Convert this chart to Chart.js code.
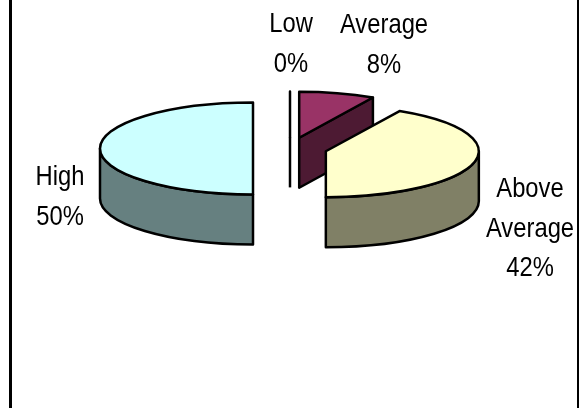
<!DOCTYPE html>
<html>
<head>
<meta charset="utf-8">
<title>Rating breakdown</title>
<script src="https://cdn.jsdelivr.net/npm/chart.js@4"></script>
<style>
    html, body { margin: 0; padding: 0; background: #fff; overflow: hidden; }
    #wrap { position: relative; width: 579px; height: 408px; }
    #frame { position: absolute; left: 9px; right: 0; top: 0; bottom: 0; border-left: 3px solid #000; border-right: 2px solid #000; }
    #pie-chart { position: absolute; left: 0; top: 0; }
</style>
</head>
<body>
<div id="wrap">
    <div id="frame"></div>
    <canvas id="pie-chart" width="579" height="408"></canvas>
</div>
<script>
var categories = ['Low', 'Average', 'Above Average', 'High'];
var values = [0, 8, 42, 50];
var faceColors = ['#9999FF', '#993366', '#FFFFCC', '#CCFFFF'];
var sideColors = ['#4D4D80', '#4D1A33', '#808066', '#668080'];

// x centre and first baseline of each label
var labelX = [291, 384, 530, 60];
var labelY = [32, 33, 197, 185];
var labelGap = 39.5;

var RADIUS = 153;
var TILT = 0.3;
var DEPTH = 50;
var EXPLODE = 37;

function slicePath(ctx, arc, ox, oy) {
    ctx.beginPath();
    ctx.moveTo(ox, oy);
    ctx.ellipse(ox, oy, arc.outerRadius, arc.outerRadius * TILT, 0, arc.startAngle, arc.endAngle);
    ctx.closePath();
}

function drawWalls(ctx, arc, ox, oy, color) {
    var r = arc.outerRadius;
    var ry = r * TILT;
    ctx.fillStyle = color;

    // cut face on the clockwise side, only when it turns towards the viewer
    if (Math.cos(arc.endAngle) > 0.001) {
        var ex = ox + r * Math.cos(arc.endAngle);
        var ey = oy + ry * Math.sin(arc.endAngle);
        ctx.beginPath();
        ctx.moveTo(ox, oy);
        ctx.lineTo(ex, ey);
        ctx.lineTo(ex, ey + DEPTH);
        ctx.lineTo(ox, oy + DEPTH);
        ctx.closePath();
        ctx.fill();
        ctx.stroke();
    }

    // rim, front half of the ellipse only
    var from = Math.max(arc.startAngle, 0);
    var to = Math.min(arc.endAngle, Math.PI);
    if (to > from) {
        ctx.beginPath();
        ctx.ellipse(ox, oy, r, ry, 0, from, to);
        ctx.ellipse(ox, oy + DEPTH, r, ry, 0, to, from, true);
        ctx.closePath();
        ctx.fill();
        ctx.stroke();
    }
}

var extrudedPie = {
    id: 'extrudedPie',
    beforeDatasetDraw: function(chart, args) {
        var ctx = chart.ctx;
        ctx.save();
        ctx.lineWidth = 2.5;
        ctx.lineJoin = 'round';
        ctx.strokeStyle = '#000';

        args.meta.data.forEach(function(arc, i) {
            var mid = (arc.startAngle + arc.endAngle) / 2;
            var dx = EXPLODE * Math.cos(mid);
            var dy = EXPLODE * Math.sin(mid);
            var ox = arc.x + dx;
            var oy = arc.y + dy * TILT;

            drawWalls(ctx, arc, ox, oy, sideColors[i]);

            // top face: the arc element itself, squashed about the pie centre
            ctx.save();
            ctx.translate(ox, oy);
            ctx.scale(1, TILT);
            ctx.translate(-arc.x, -arc.y);
            arc.draw(ctx);
            ctx.restore();

            slicePath(ctx, arc, ox, oy);
            ctx.stroke();

            // a 0% slice collapses to a single upright line
            if (arc.circumference === 0) {
                ctx.beginPath();
                ctx.moveTo(ox, oy + DEPTH);
                ctx.lineTo(ox, oy);
                ctx.stroke();
            }
        });

        ctx.restore();
        return false;
    },
    afterDraw: function(chart) {
        var ctx = chart.ctx;
        ctx.save();
        ctx.fillStyle = '#000';
        ctx.font = '28px "Liberation Sans", Arial, sans-serif';
        ctx.textAlign = 'center';
        ctx.textBaseline = 'alphabetic';

        categories.forEach(function(name, i) {
            var lines = name.split(' ').concat(values[i] + '%');
            lines.forEach(function(line, n) {
                // the label type is set condensed
                ctx.save();
                ctx.translate(labelX[i], labelY[i] + n * labelGap);
                ctx.scale(0.85, 1);
                ctx.fillText(line, 0, 0);
                ctx.restore();
            });
        });
        ctx.restore();
    }
};

new Chart(document.getElementById('pie-chart'), {
    type: 'pie',
    data: {
        labels: categories,
        datasets: [{
            data: values,
            backgroundColor: faceColors,
            borderWidth: 0,
            clip: false
        }]
    },
    options: {
        responsive: false,
        animation: false,
        radius: RADIUS,
        layout: { padding: { left: 1, right: 0, top: 0, bottom: 111 } },
        plugins: {
            legend: { display: false },
            tooltip: { enabled: false }
        }
    },
    plugins: [extrudedPie]
});
</script>
</body>
</html>
